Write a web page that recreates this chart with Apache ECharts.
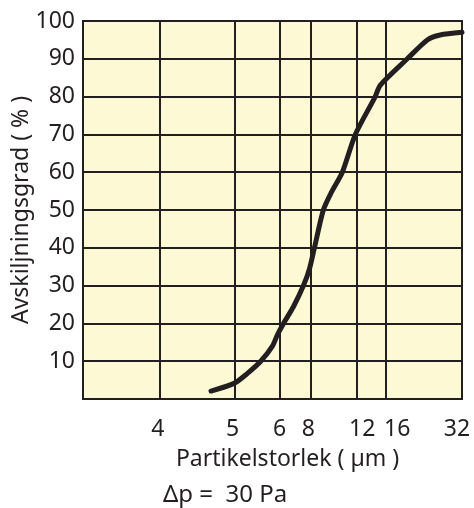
<!DOCTYPE html>
<html>
<head>
<meta charset="utf-8">
<script src="https://cdn.jsdelivr.net/npm/echarts@6/dist/echarts.min.js"></script>
<style>
html, body { margin: 0; padding: 0; background: #fff; }
#main { width: 474px; height: 508px; }
</style>
</head>
<body>
<div id="main"></div>
<script>
var sizeTicks = [4, 5, 6, 8, 12, 16, 32];
var sizeLabels = ['4', '5', '6', '8', '12', '16', '32'];
var particleSize = [4.66, 5.0, 5.25, 5.56, 5.83, 5.95, 6.23, 6.83, 7.5, 7.93, 8.29, 8.97, 9.63, 10.61, 11.9, 14.4, 15.1, 19.4, 23.3, 26.2, 32];
var separation = [2.1, 4.2, 6.6, 10, 14, 17, 20, 24.4, 30, 34.4, 40, 50, 54.7, 60, 70, 80, 83, 90, 95, 96.3, 97];

// the paper scale is not logarithmic: where each grid line sits on the x axis
var tickPos = [77, 152, 197, 228, 274, 304, 380];
var labelPos = [75, 150, 197, 226, 280, 315, 375];

function toPos(d) {
    for (var i = 0; i < sizeTicks.length - 1; i++) {
        if (d <= sizeTicks[i + 1] || i === sizeTicks.length - 2) {
            var f = Math.log(d / sizeTicks[i]) / Math.log(sizeTicks[i + 1] / sizeTicks[i]);
            return tickPos[i] + f * (tickPos[i + 1] - tickPos[i]);
        }
    }
}

var curve = particleSize.map(function (d, i) {
    return [toPos(d), separation[i]];
});

var ink = '#231f20';
var font = 'Noto Sans';

var chart = echarts.init(document.getElementById('main'));
chart.setOption({
    animation: false,
    grid: {
        left: 83, right: 12, top: 21, bottom: 109,
        outerBoundsMode: 'none',
        containLabel: false,
        show: true,
        backgroundColor: '#fef9d5',
        borderColor: ink,
        borderWidth: 2
    },
    xAxis: {
        type: 'value',
        min: 0,
        max: 380,
        name: 'Partikelstorlek ( µm )',
        nameLocation: 'middle',
        nameGap: 49,
        nameMoveOverlap: false,
        nameTextStyle: { fontFamily: font, fontSize: 23, color: ink, padding: [0, 0, 0, 30] },
        axisLine: { show: false },
        axisTick: { show: false, customValues: tickPos },
        splitLine: { show: true, lineStyle: { color: ink, width: 2 } },
        axisLabel: {
            customValues: labelPos,
            margin: 19,
            fontFamily: font,
            fontSize: 23,
            color: ink,
            formatter: function (v) {
                var k = labelPos.indexOf(v);
                return k >= 0 ? sizeLabels[k] : '';
            }
        }
    },
    yAxis: {
        type: 'value',
        min: 0,
        max: 100,
        interval: 10,
        name: 'Avskiljningsgrad ( % )',
        nameLocation: 'middle',
        nameGap: 50,
        nameMoveOverlap: false,
        nameTextStyle: { fontFamily: font, fontSize: 23, color: ink },
        axisLine: { show: false },
        axisTick: { show: false },
        splitLine: { lineStyle: { color: ink, width: 2 } },
        axisLabel: {
            margin: 8,
            fontFamily: font,
            fontSize: 23,
            color: ink,
            formatter: function (v) { return v === 0 ? '' : v; }
        }
    },
    graphic: [{
        type: 'text',
        left: 163,
        top: 483,
        style: { text: 'Δp =  30 Pa', fontFamily: font, fontSize: 24, fill: ink }
    }],
    series: [{
        type: 'line',
        data: curve,
        smooth: 0.25,
        symbol: 'none',
        lineStyle: { color: ink, width: 5, cap: 'round' }
    }]
});
</script>
</body>
</html>
